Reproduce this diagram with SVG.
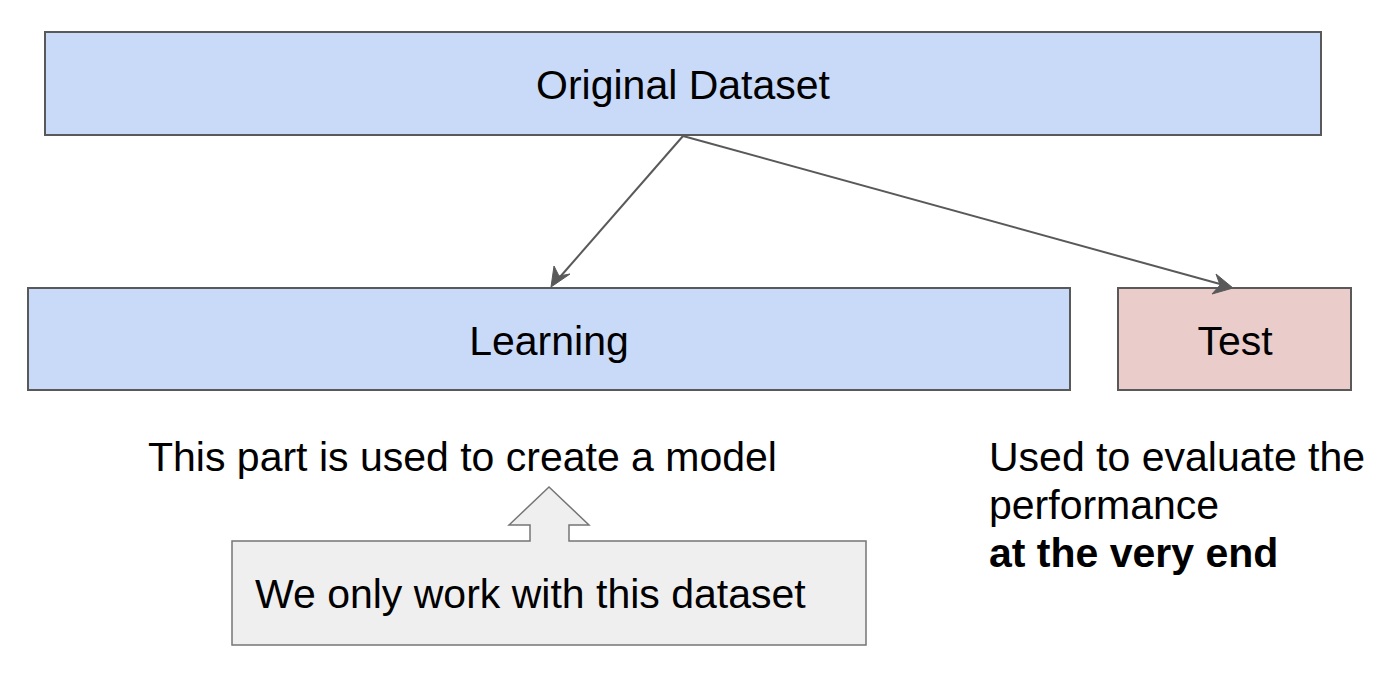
<svg xmlns="http://www.w3.org/2000/svg" width="1390" height="700" viewBox="0 0 1390 700">
<style>
.box{stroke:#595959;stroke-width:2}
.blue{fill:#c9daf8}
.red{fill:#eacdcb}
.t{font-family:"Liberation Sans",Arial,sans-serif;font-size:41px;fill:#000}
.c{text-anchor:middle}
.conn{fill:none;stroke:#595959;stroke-width:2}
.head{fill:#595959;stroke:#595959;stroke-width:1}
</style>
<rect width="1390" height="700" fill="#fff"/>
<g id="original">
<rect class="box blue" x="45" y="32" width="1276" height="103"/>
<text class="t c" x="683" y="99">Original Dataset</text>
</g>
<g id="learning">
<rect class="box blue" x="28" y="288" width="1042" height="102"/>
<text class="t c" x="549" y="355">Learning</text>
</g>
<g id="test">
<rect class="box red" x="1118" y="288" width="233" height="102"/>
<text class="t c" x="1235" y="355">Test</text>
</g>
<g id="connectors">
<path class="conn" d="M683,136 L560,277"/>
<path class="head" d="M551,287 L554,266 L559,276 L570,274 Z"/>
<path class="conn" d="M683,136 L1220,284"/>
<path class="head" d="M1233,288 L1212,294 L1220,285 L1216,274 Z"/>
</g>
<g id="learning-note">
<text class="t" x="148" y="471">This part is used to create a model</text>
</g>
<g id="callout">
<path d="M232,541 L530,541 L530,525 L509,525 L549,487 L589,525 L569,525 L569,541 L866,541 L866,645 L232,645 Z" fill="#efefef" stroke="#757575" stroke-width="1.5"/>
<text class="t" x="255" y="608">We only work with this dataset</text>
</g>
<g id="test-note">
<text class="t" x="989" y="471">Used to evaluate the</text>
<text class="t" x="989" y="519">performance</text>
<text class="t" x="989" y="567" font-weight="bold">at the very end</text>
</g>
</svg>
